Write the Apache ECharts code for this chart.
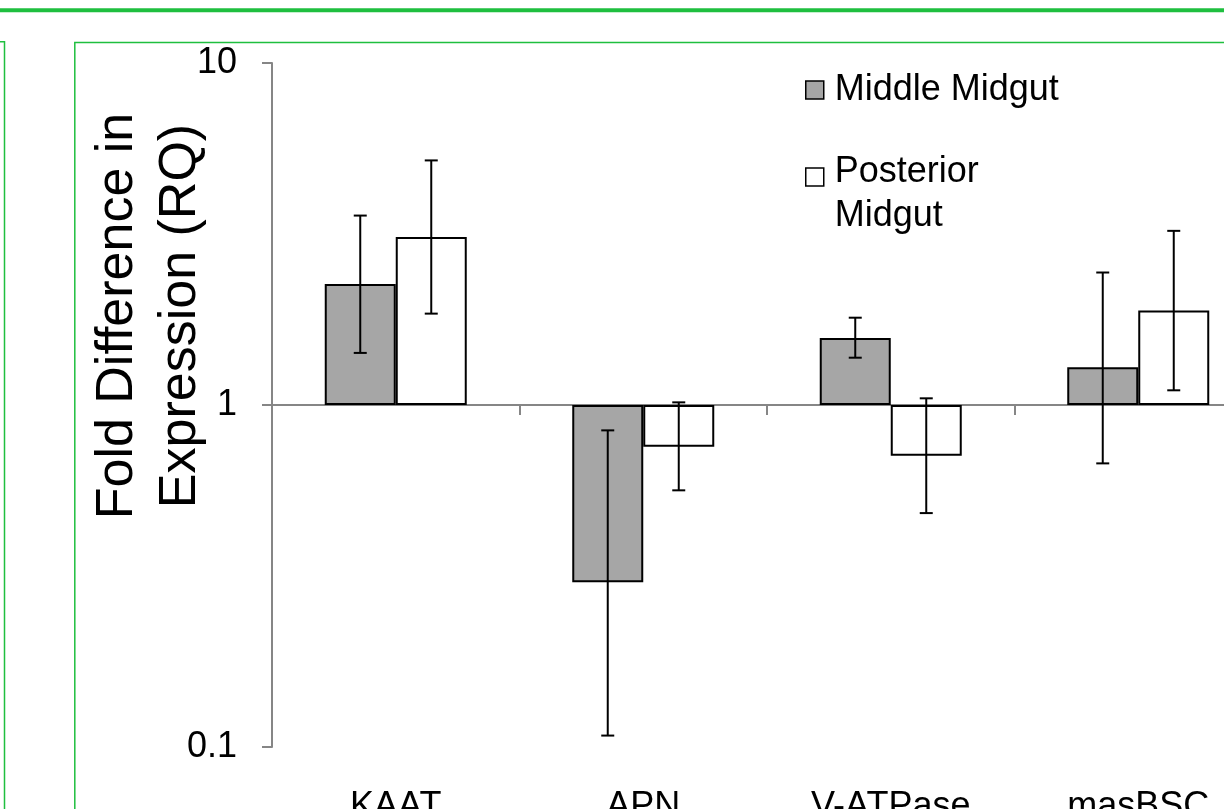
<!DOCTYPE html>
<html>
<head>
<meta charset="utf-8">
<script src="https://cdn.jsdelivr.net/npm/echarts@6/dist/echarts.min.js"></script>
<style>
html,body{margin:0;padding:0;background:#fff;}
#chart{width:1224px;height:809px;}
</style>
</head>
<body>
<div id="chart"></div>
<script>
const categories = ['KAAT', 'APN', 'V-ATPase', 'masBSC'];
const middleMidgut = [2.26, 0.303, 1.57, 1.29];
const middleLow = [1.42, 0.108, 1.375, 0.675];
const middleHigh = [3.58, 0.843, 1.80, 2.44];
const posteriorMidgut = [3.10, 0.755, 0.711, 1.89];
const posteriorLow = [1.85, 0.563, 0.483, 1.104];
const posteriorHigh = [5.19, 1.018, 1.046, 3.23];
const yTicks = [0.1, 1, 10];

const FONT = "'Liberation Sans', Arial, sans-serif";
const GREEN = '#1fbf3f';
const AXIS = '#868686';
const BAR_W = 71;

function errData(lo, hi) {
  return categories.map((c, i) => [i, lo[i], hi[i]]);
}
function errSeries(name, lo, hi, dir) {
  return {
    type: 'custom',
    name: name + ' error',
    data: errData(lo, hi),
    z: 5,
    silent: true,
    renderItem(params, api) {
      const x = api.value(0);
      const pLo = api.coord([x, api.value(1)]);
      const pHi = api.coord([x, api.value(2)]);
      const cx = pLo[0] + dir * BAR_W / 2;
      const cap = 6.5;
      const st = { stroke: '#000', lineWidth: 2 };
      return {
        type: 'group',
        children: [
          { type: 'line', shape: { x1: cx, y1: pLo[1], x2: cx, y2: pHi[1] }, style: st },
          { type: 'line', shape: { x1: cx - cap, y1: pLo[1], x2: cx + cap, y2: pLo[1] }, style: st },
          { type: 'line', shape: { x1: cx - cap, y1: pHi[1], x2: cx + cap, y2: pHi[1] }, style: st }
        ]
      };
    }
  };
}

const chart = echarts.init(document.getElementById('chart'), null, { renderer: 'canvas' });
chart.setOption({
  animation: false,
  backgroundColor: '#fff',
  textStyle: { fontFamily: FONT },
  grid: { left: 272, top: 63, width: 990, height: 684, containLabel: false, outerBoundsMode: 'none' },
  legend: [
    {
      data: ['Middle Midgut'],
      orient: 'vertical',
      left: 805, top: 72, padding: 0,
      itemWidth: 18, itemHeight: 18,
      icon: 'rect',
      textStyle: { fontSize: 36, fontFamily: FONT, color: '#000', padding: [0, 0, 0, 6] },
      itemStyle: { color: '#a6a6a6', borderColor: '#000', borderWidth: 1.5 }
    },
    {
      data: ['Posterior Midgut'],
      orient: 'vertical',
      left: 805, top: 150, padding: 0,
      itemWidth: 18, itemHeight: 52,
      icon: 'path://M0,0L18,0L18,18L0,18Z M0,52',
      formatter: () => 'Posterior\nMidgut',
      textStyle: { fontSize: 36, fontFamily: FONT, color: '#000', lineHeight: 44, padding: [0, 0, 0, 6] },
      itemStyle: { color: '#fff', borderColor: '#000', borderWidth: 1.5 }
    }
  ],
  xAxis: {
    type: 'category',
    data: categories,
    position: 'bottom',
    offset: -342,
    axisLine: { onZero: false, lineStyle: { color: AXIS, width: 2 } },
    axisTick: { show: true, length: 10, lineStyle: { color: AXIS, width: 2 } },
    axisLabel: { fontSize: 36, fontFamily: FONT, color: '#000', margin: 384, interval: 0 },
    splitLine: { show: false }
  },
  yAxis: {
    type: 'log',
    logBase: 10,
    min: yTicks[0],
    max: yTicks[yTicks.length - 1],
    axisLine: { show: true, lineStyle: { color: AXIS, width: 2 } },
    axisTick: { show: true, length: 10, lineStyle: { color: AXIS, width: 2 } },
    minorTick: { show: false },
    axisLabel: {
      fontSize: 36, fontFamily: FONT, color: '#000', margin: 35,
      formatter: v => String(+v.toPrecision(3))
    },
    splitLine: { show: false }
  },
  series: [
    {
      type: 'bar', name: 'Middle Midgut', data: middleMidgut,
      barWidth: BAR_W, barGap: '0%',
      itemStyle: { color: '#a6a6a6', borderColor: '#000', borderWidth: 2 }
    },
    {
      type: 'bar', name: 'Posterior Midgut', data: posteriorMidgut,
      barWidth: BAR_W, barGap: '0%',
      itemStyle: { color: '#fff', borderColor: '#000', borderWidth: 2 }
    },
    errSeries('Middle Midgut', middleLow, middleHigh, -1),
    errSeries('Posterior Midgut', posteriorLow, posteriorHigh, 1)
  ],
  graphic: [
    { type: 'rect', shape: { x: 0, y: 8.3, width: 1224, height: 4 }, style: { fill: GREEN }, z: 100 },
    { type: 'polyline', shape: { points: [[0, 41.7], [4.5, 41.7], [4.5, 809]] }, style: { stroke: GREEN, lineWidth: 1.5, fill: null }, z: 100 },
    { type: 'polyline', shape: { points: [[1224, 42.5], [74.8, 42.5], [74.8, 809]] }, style: { stroke: GREEN, lineWidth: 1.5, fill: null }, z: 100 },
    {
      type: 'text', x: 149.5, y: 316, rotation: Math.PI / 2, z: 100,
      style: {
        text: 'Fold Difference in\nExpression (RQ)',
        fontSize: 52, fontFamily: FONT, fill: '#000',
        align: 'center', verticalAlign: 'middle', lineHeight: 63
      }
    }
  ]
});
</script>
</body>
</html>
